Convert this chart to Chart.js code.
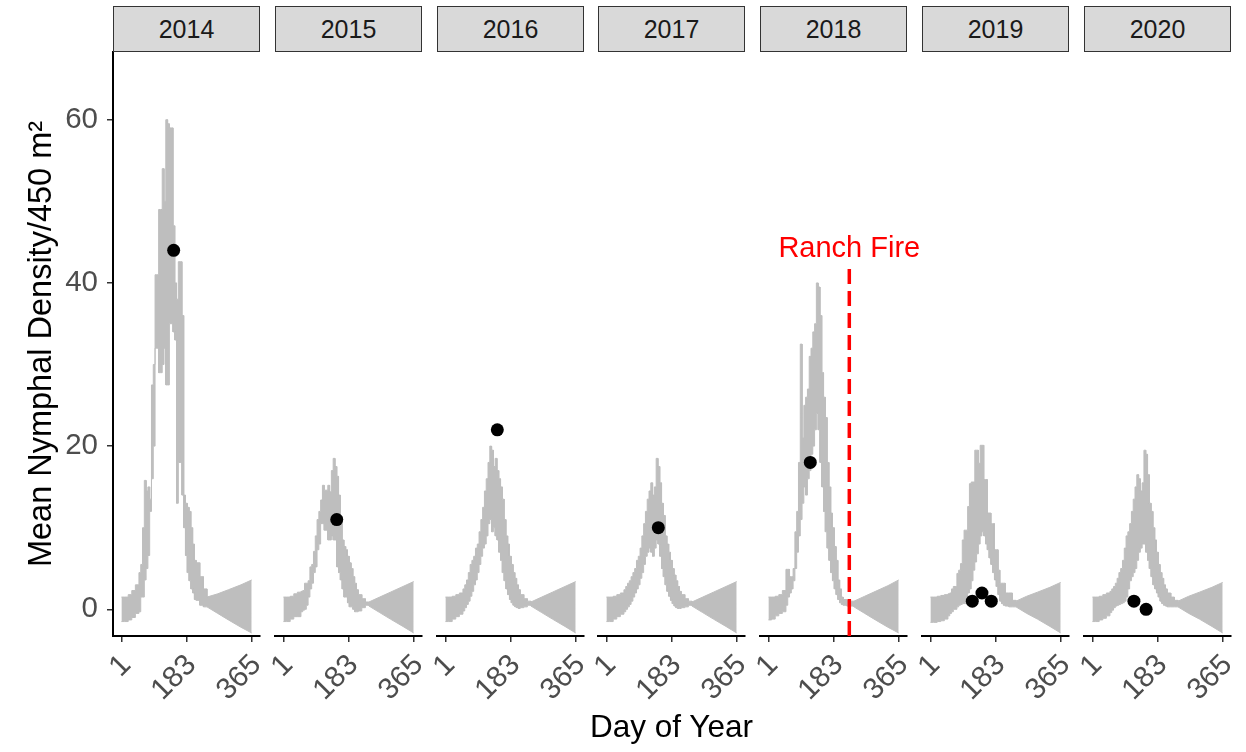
<!DOCTYPE html>
<html>
<head>
<meta charset="utf-8">
<script src="https://cdn.jsdelivr.net/npm/chart.js@4.4.1/dist/chart.umd.min.js"></script>
<style>
html,body{margin:0;padding:0;background:#fff;}
#wrap{position:relative;width:1246px;height:752px;overflow:hidden;background:#fff;font-family:"Liberation Sans",Arial,sans-serif;}
#wrap canvas{position:absolute;}
.strip{position:absolute;top:6px;height:46px;box-sizing:border-box;background:#d9d9d9;border:1px solid #333;font-size:25px;color:#1a1a1a;display:flex;align-items:center;justify-content:center;}
#xtitle{position:absolute;left:113px;width:1117px;top:711px;line-height:31px;font-size:31.5px;text-align:center;color:#000;}
</style>
</head>
<body>
<div id="wrap"></div>
<script>
// ---------------- data ----------------
const years = ['2014', '2015', '2016', '2017', '2018', '2019', '2020'];
const days = [1, 10, 20, 30, 40, 50, 55, 60, 65, 70, 75, 80, 85, 90, 95, 100, 105, 110, 115, 120, 125, 130, 135, 140, 145, 150, 155, 160, 165, 170, 175, 180, 185, 190, 195, 200, 205, 210, 220, 230, 240, 270, 300, 335, 365];

const upper2014 = [1.5, 1.5, 1.8, 2.3, 3.0, 4.5, 5.5, 10, 15.8, 14.5, 15, 13.5, 27.5, 30, 41, 41, 49, 49, 54, 50, 60, 59.5, 59, 59, 47, 40, 38, 42.6, 42.6, 36, 14, 13, 12.5, 12, 10, 8, 6, 5.7, 4, 2.5, 1.5, 1.9, 2.4, 3.0, 3.6];
const lower2014 = [-1.5, -1.5, -1.3, -1.0, -0.5, -0.3, 1.5, 1.5, 3.6, 5.0, 6.6, 12, 16, 20, 32, 32, 29, 29, 30, 32, 27.5, 27.5, 35, 35, 34, 33, 13, 18, 18, 14, 10, 6.6, 4.5, 3.5, 2.5, 2.0, 1.2, 1.1, 0.5, 0.3, 0.3, -0.5, -1.3, -2.2, -2.9];

const upper2015 = [1.5, 1.5, 1.6, 1.9, 2.1, 2.2, 2.3, 3.2, 3.2, 3.5, 5.2, 5.5, 7.1, 9, 11, 12, 13.4, 15.2, 14.6, 14.6, 15.2, 14.4, 17, 18.5, 17.5, 16.3, 14, 11.4, 8.5, 7.7, 7.3, 6.5, 5.7, 5.0, 4.0, 3.2, 2.4, 1.8, 1.3, 0.9, 0.9, 1.5, 2.1, 2.8, 3.4];
const lower2015 = [-1.5, -1.5, -1.2, -0.9, -0.9, -0.3, -0.1, 0.0, 0.5, 1.5, 2.5, 3.2, 4.5, 5.2, 7.3, 8.0, 10.5, 10.5, 9.7, 9.7, 8.5, 8.5, 9.0, 8.5, 8.5, 5.2, 4.5, 3.6, 2.5, 1.5, 1.5, 0.8, 0.3, 0.3, 0.0, -0.3, -0.3, -0.2, 0.2, 0.5, 0.4, -0.4, -1.2, -2.1, -2.9];

const upper2016 = [1.5, 1.5, 1.6, 1.8, 2.0, 2.5, 3.0, 3.6, 4.5, 5.5, 6.0, 6.5, 7.5, 8.0, 9.5, 11.0, 12.5, 14.5, 16.0, 18.0, 20.0, 19.5, 17.5, 18.5, 17.0, 16.0, 15.0, 13.5, 11.0, 9.0, 8.0, 6.5, 5.5, 4.5, 3.8, 3.0, 2.4, 1.8, 1.3, 1.0, 0.9, 1.5, 2.1, 2.8, 3.4];
const lower2016 = [-1.5, -1.5, -1.2, -0.9, -0.6, -0.2, 0.2, 0.6, 1.0, 1.6, 2.2, 3.0, 3.6, 4.5, 5.5, 6.5, 7.5, 8.0, 9.0, 10.5, 11.0, 9.5, 10.0, 9.0, 8.5, 7.0, 6.0, 4.5, 3.5, 2.5, 1.8, 1.2, 0.8, 0.5, 0.3, 0.2, 0.1, 0.2, 0.3, 0.5, 0.4, -0.4, -1.2, -2.1, -2.9];

const upper2017 = [1.5, 1.5, 1.6, 1.8, 2.0, 2.4, 2.8, 3.2, 3.5, 4.0, 4.5, 5.0, 6.0, 6.5, 7.5, 9.0, 10.5, 12.0, 13.5, 14.5, 15.5, 14.0, 15.0, 18.5, 17.5, 15.5, 13.0, 11.5, 9.0, 8.0, 7.0, 6.0, 5.0, 4.2, 3.5, 2.8, 2.2, 1.8, 1.3, 1.0, 0.9, 1.5, 2.1, 2.8, 3.4];
const lower2017 = [-1.5, -1.5, -1.2, -0.9, -0.6, -0.3, 0.0, 0.3, 0.6, 1.0, 1.5, 2.0, 2.5, 3.0, 3.8, 4.5, 5.5, 6.5, 7.0, 7.5, 7.0, 6.5, 7.5, 8.5, 8.0, 6.5, 5.0, 4.0, 3.0, 2.2, 1.6, 1.1, 0.7, 0.4, 0.2, 0.1, 0.1, 0.2, 0.3, 0.5, 0.4, -0.4, -1.2, -2.1, -2.9];

const upper2018 = [1.5, 1.5, 1.6, 1.8, 2.3, 4.9, 4.9, 4.0, 4.0, 5.0, 9.5, 12.0, 18.0, 32.5, 21.0, 25.0, 26.0, 27.0, 31.0, 32.0, 34.0, 35.0, 40.0, 39.5, 36.0, 29.0, 26.0, 23.5, 18.0, 15.0, 11.8, 10.0, 7.7, 6.0, 3.6, 2.5, 1.5, 1.2, 1.1, 1.0, 1.0, 1.6, 2.2, 2.9, 3.6];
const lower2018 = [-1.3, -1.2, -0.8, -0.5, -0.3, 0.5, 1.5, 2.0, 2.5, 3.5, 5.0, 7.0, 9.0, 11.0, 13.0, 15.0, 14.0, 16.0, 17.0, 19.0, 20.0, 22.0, 24.0, 22.0, 18.0, 15.0, 12.0, 9.5, 7.5, 6.0, 4.5, 3.5, 2.5, 1.8, 1.2, 0.8, 0.6, 0.5, 0.4, 0.4, 0.3, -0.5, -1.3, -2.2, -2.9];

const upper2019 = [1.5, 1.5, 1.6, 1.7, 1.8, 1.9, 2.0, 2.5, 2.8, 2.8, 4.4, 4.8, 5.6, 8.5, 9.7, 9.7, 12.6, 15.4, 15.6, 15.6, 19.5, 19.5, 17.9, 20.1, 20.1, 15.9, 15.9, 11.8, 11.8, 10.5, 10.5, 7.3, 7.3, 4.8, 3.2, 3.2, 3.2, 2.0, 2.0, 1.1, 1.0, 1.6, 2.1, 2.7, 3.3];
const lower2019 = [-1.6, -1.6, -1.5, -1.4, -1.2, -0.8, -0.5, -0.3, 0.0, 0.0, 0.3, 0.5, 0.6, 0.7, 0.7, 0.7, 2.0, 2.5, 3.5, 4.8, 5.8, 6.8, 8.0, 9.0, 9.5, 9.0, 8.0, 7.3, 6.3, 5.5, 4.5, 3.6, 2.8, 1.8, 1.0, 0.7, 0.5, 0.4, 0.3, 0.3, 0.3, -0.5, -1.2, -2.1, -2.9];

const upper2020 = [1.5, 1.5, 1.6, 1.8, 2.0, 2.2, 2.5, 2.8, 3.2, 3.8, 4.5, 5.0, 6.0, 7.5, 9.0, 9.5, 10.5, 12.0, 13.5, 15.0, 16.5, 16.0, 14.5, 15.5, 19.5, 19.0, 16.5, 13.0, 12.0, 10.0, 8.5, 7.0, 5.5, 4.5, 3.8, 3.0, 2.5, 2.0, 1.5, 1.1, 1.0, 1.6, 2.1, 2.7, 3.3];
const lower2020 = [-1.5, -1.5, -1.3, -1.1, -0.8, -0.4, -0.1, 0.2, 0.4, 0.5, 0.6, 0.7, 0.8, 1.0, 1.5, 2.5, 3.5, 4.0, 4.5, 5.0, 6.0, 7.0, 7.5, 8.0, 8.0, 7.0, 6.0, 5.0, 4.0, 3.0, 2.5, 2.0, 1.5, 1.0, 0.7, 0.5, 0.4, 0.3, 0.3, 0.3, 0.3, -0.5, -1.2, -2.1, -2.9];

const obsDays2014 = [147], obsVals2014 = [44];
const obsDays2015 = [150], obsVals2015 = [11];
const obsDays2016 = [146], obsVals2016 = [22];
const obsDays2017 = [146], obsVals2017 = [10];
const obsDays2018 = [118], obsVals2018 = [18];
const obsDays2019 = [118, 145, 171], obsVals2019 = [1, 2, 1];
const obsDays2020 = [117, 151], obsVals2020 = [1, 0];

const xTicks = [1, 183, 365];
const yTicks = [0, 20, 40, 60];
const fireYear = '2018';
const fireDay = 227;
const fireTop = 42;
const fireLabelY = 44.2;
const fireLabel = 'Ranch Fire';
const yTitle = 'Mean Nymphal Density/450 m\u00B2';
const xTitle = 'Day of Year';
const tailStart = 240;

// ---------------- layout / style ----------------
const GREY = 'rgb(190,190,190)';
const FONT = '"Liberation Sans", Arial, sans-serif';
const X_MIN = -22.5, X_MAX = 388.2;
const Y_MIN = -3.27, Y_MAX = 68.3;
const PANEL_LEFT0 = 113, PANEL_STEP = 161.8, PANEL_W = 147;
const AREA_TOP = 52, AREA_BOTTOM = 636, PAGE_H = 752;
const YAXIS_W = 113, PAD_L = 20, PAD_R = 28, PAD_T = 36;
const TICK_FONT = 29.5;

Chart.defaults.font.family = FONT;

const uppers = [upper2014, upper2015, upper2016, upper2017, upper2018, upper2019, upper2020];
const lowers = [lower2014, lower2015, lower2016, lower2017, lower2018, lower2019, lower2020];
const obsDays = [obsDays2014, obsDays2015, obsDays2016, obsDays2017, obsDays2018, obsDays2019, obsDays2020];
const obsVals = [obsVals2014, obsVals2015, obsVals2016, obsVals2017, obsVals2018, obsVals2019, obsVals2020];

function bandPoints(dayArr, valArr) {
  const pts = [];
  for (let i = 0; i < dayArr.length; i++) {
    pts.push({x: dayArr[i], y: valArr[i]});
    const next = dayArr[i + 1];
    if (next !== undefined && next <= tailStart) pts.push({x: next, y: valArr[i]});
  }
  return pts;
}

const fireLabelPlugin = {
  id: 'fireLabel',
  afterDatasetsDraw(chart) {
    const {ctx, scales} = chart;
    ctx.save();
    ctx.font = '29px ' + FONT;
    ctx.fillStyle = '#ff0000';
    ctx.textAlign = 'center';
    ctx.textBaseline = 'middle';
    ctx.fillText(fireLabel, scales.x.getPixelForValue(fireDay), scales.y.getPixelForValue(fireLabelY));
    ctx.restore();
  }
};

const wrap = document.getElementById('wrap');

years.forEach((year, i) => {
  const panelLeft = Math.round(PANEL_LEFT0 + i * PANEL_STEP);
  const first = i === 0;
  const cLeft = first ? 0 : panelLeft - PAD_L;
  const cWidth = first ? YAXIS_W + PANEL_W + PAD_R : PAD_L + PANEL_W + PAD_R;
  const cTop = AREA_TOP - PAD_T;
  const cHeight = PAGE_H - cTop;

  const canvas = document.createElement('canvas');
  canvas.width = cWidth; canvas.height = cHeight;
  canvas.style.left = cLeft + 'px'; canvas.style.top = cTop + 'px';
  canvas.style.width = cWidth + 'px'; canvas.style.height = cHeight + 'px';
  wrap.appendChild(canvas);

  const datasets = [];
  datasets.push({
    label: 'observed',
    data: obsDays[i].map((d, k) => ({x: d, y: obsVals[i][k]})),
    showLine: false, pointRadius: 6.5, pointBackgroundColor: '#000', pointBorderColor: '#000',
    pointBorderWidth: 0, borderWidth: 0, order: 0
  });
  if (year === fireYear) {
    datasets.push({
      label: 'fire',
      data: [{x: fireDay, y: Y_MIN}, {x: fireDay, y: fireTop}],
      borderColor: '#ff0000', borderWidth: 3.5, borderDash: [15, 7], pointRadius: 0, fill: false, order: 1
    });
  }
  const upIdx = datasets.length;
  datasets.push({
    label: 'upper', data: bandPoints(days, uppers[i]),
    borderColor: GREY, borderWidth: 1, pointRadius: 0, fill: false, order: 2
  });
  datasets.push({
    label: 'lower', data: bandPoints(days, lowers[i]),
    borderColor: GREY, borderWidth: 1, pointRadius: 0, fill: upIdx, backgroundColor: GREY, order: 3
  });

  new Chart(canvas, {
    type: 'line',
    data: {datasets},
    plugins: year === fireYear ? [fireLabelPlugin] : [],
    options: {
      responsive: false,
      animation: false,
      events: [],
      layout: {padding: {left: first ? 0 : PAD_L, right: PAD_R, top: PAD_T, bottom: 0}},
      plugins: {legend: {display: false}, tooltip: {enabled: false}},
      scales: {
        x: {
          type: 'linear', min: X_MIN, max: X_MAX,
          afterBuildTicks: s => { s.ticks = xTicks.map(v => ({value: v})); },
          afterFit: s => { s.height = PAGE_H - AREA_BOTTOM; },
          ticks: {
            autoSkip: false, minRotation: 45, maxRotation: 45, padding: 6, labelOffset: 5,
            font: {size: TICK_FONT}, color: '#4d4d4d'
          },
          grid: {display: true, drawOnChartArea: false, drawTicks: true, tickLength: 6, color: '#333', lineWidth: 1.5},
          border: {display: true, color: '#000', width: 2}
        },
        y: {
          type: 'linear', min: Y_MIN, max: Y_MAX, display: first,
          afterBuildTicks: s => { s.ticks = yTicks.map(v => ({value: v})); },
          afterFit: s => { if (first) s.width = YAXIS_W; },
          ticks: {padding: 9, font: {size: TICK_FONT}, color: '#4d4d4d'},
          grid: {display: true, drawOnChartArea: false, drawTicks: true, tickLength: 6, color: '#333', lineWidth: 1.5},
          border: {display: true, color: '#000', width: 2},
          title: {display: true, text: yTitle, font: {size: 32.5}, color: '#000', padding: {top: 23, bottom: 0}}
        }
      }
    }
  });

  const strip = document.createElement('div');
  strip.className = 'strip';
  strip.style.left = panelLeft + 'px';
  strip.style.width = PANEL_W + 'px';
  strip.textContent = year;
  wrap.appendChild(strip);
});

const xt = document.createElement('div');
xt.id = 'xtitle';
xt.textContent = xTitle;
wrap.appendChild(xt);
</script>
</body>
</html>
